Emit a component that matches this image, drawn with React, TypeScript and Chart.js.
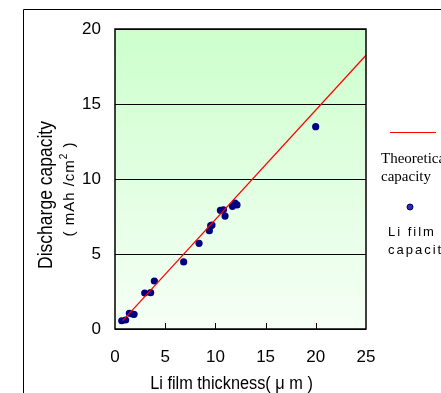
import React, { useEffect, useRef } from "react";
import { Chart, registerables } from "chart.js";

Chart.register(...registerables);

// Measured Li film capacity points
const thickness = [0.67, 1.06, 1.43, 1.7, 1.9, 2.96, 3.55, 3.92, 6.84, 8.37, 9.4, 9.53, 9.66, 10.5, 10.8, 10.96, 11.7, 11.95, 12.15, 19.99];
const capacity = [0.55, 0.6, 1.05, 1.0, 0.98, 2.4, 2.42, 3.2, 4.47, 5.71, 6.55, 6.89, 6.93, 7.91, 7.95, 7.53, 8.18, 8.4, 8.27, 13.49];
// Theoretical capacity line endpoints
const theoryThickness = [0.77, 25];
const theoryCapacity = [0.56, 18.25];
// Axis ranges / ticks
const xMin = 0, xMax = 25, xStep = 5;
const yMin = 0, yMax = 20, yStep = 5;

const xTitle = "Li film thickness( \u03bc m )";
const yTitle1 = "Discharge capacity";
const yTitle2a = "( mAh /cm";
const yTitle2sup = "2";
const yTitle2b = " )";
const legendTheory = ["Theoretical", "capacity"];
const legendPoints = ["Li film", "capacity"];

const SANS = "'Liberation Sans', Arial, sans-serif";
const SERIF = "'Liberation Serif', 'Times New Roman', serif";

const decor = {
  id: "decor",
  beforeDraw(chart: any) {
    const { ctx, chartArea: a, width, height } = chart;
    ctx.save();
    ctx.fillStyle = "#ffffff";
    ctx.fillRect(0, 0, width, height);
    // outer frame
    ctx.strokeStyle = "#000";
    ctx.lineWidth = 1;
    ctx.beginPath();
    ctx.moveTo(23.5, height);
    ctx.lineTo(23.5, 9.5);
    ctx.lineTo(width, 9.5);
    ctx.stroke();
    // plot background gradient
    const g = ctx.createLinearGradient(0, a.top, 0, a.bottom);
    g.addColorStop(0, "#ccffcc");
    g.addColorStop(1, "#f6fff6");
    ctx.fillStyle = g;
    ctx.fillRect(a.left, a.top, a.right - a.left, a.bottom - a.top);
    ctx.restore();
  },
  afterDraw(chart: any) {
    const { ctx, chartArea: a } = chart;
    const xs = chart.scales.x;
    ctx.save();
    // plot border
    ctx.strokeStyle = "#000";
    ctx.lineWidth = 1.5;
    ctx.strokeRect(a.left, a.top, a.right - a.left, a.bottom - a.top);
    // inner x tick marks
    ctx.lineWidth = 1;
    for (let v = xMin + xStep; v < xMax; v += xStep) {
      const px = Math.round(xs.getPixelForValue(v)) + 0.5;
      ctx.beginPath();
      ctx.moveTo(px, a.bottom);
      ctx.lineTo(px, a.bottom - 6);
      ctx.stroke();
    }
    // x title
    ctx.fillStyle = "#000";
    ctx.font = `17px ${SANS}`;
    ctx.textAlign = "center";
    ctx.textBaseline = "alphabetic";
    ctx.save();
    ctx.translate((a.left + a.right) / 2 - 9, 389);
    ctx.scale(0.96, 1.1);
    ctx.fillText(xTitle, 0, 0);
    ctx.restore();
    // y title line 1
    ctx.save();
    ctx.translate(52, 195);
    ctx.rotate(-Math.PI / 2);
    ctx.scale(1, 1.15);
    ctx.font = `17.5px ${SANS}`;
    ctx.textAlign = "center";
    ctx.fillText(yTitle1, 0, 0);
    ctx.restore();
    // y title line 2
    ctx.save();
    ctx.translate(74, 189);
    ctx.rotate(-Math.PI / 2);
    ctx.font = `15px ${SANS}`;
    (ctx as any).letterSpacing = "1px";
    ctx.textAlign = "left";
    const w1 = ctx.measureText(yTitle2a).width;
    ctx.font = `10px ${SANS}`;
    const ws = ctx.measureText(yTitle2sup).width;
    ctx.font = `15px ${SANS}`;
    const w2 = ctx.measureText(yTitle2b).width;
    const x0 = -(w1 + ws + w2) / 2;
    ctx.fillText(yTitle2a, x0, 0);
    ctx.font = `10px ${SANS}`;
    ctx.fillText(yTitle2sup, x0 + w1, -7);
    ctx.font = `15px ${SANS}`;
    ctx.fillText(yTitle2b, x0 + w1 + ws, 0);
    ctx.restore();
    // legend
    ctx.strokeStyle = "#ff0000";
    ctx.lineWidth = 1;
    ctx.beginPath();
    ctx.moveTo(390, 132.5);
    ctx.lineTo(436, 132.5);
    ctx.stroke();
    ctx.fillStyle = "#000";
    ctx.textAlign = "left";
    ctx.font = `15px ${SERIF}`;
    ctx.fillText(legendTheory[0], 381, 163);
    ctx.fillText(legendTheory[1], 381, 181);
    ctx.beginPath();
    ctx.arc(410, 207, 3, 0, Math.PI * 2);
    ctx.fillStyle = "#2b2bc0";
    ctx.fill();
    ctx.strokeStyle = "#000050";
    ctx.stroke();
    ctx.fillStyle = "#000";
    ctx.font = `13px ${SANS}`;
    (ctx as any).letterSpacing = "2px";
    ctx.fillText(legendPoints[0], 388, 236);
    ctx.fillText(legendPoints[1], 388, 254);
    ctx.restore();
  },
};

export default function App() {
  const ref = useRef<HTMLCanvasElement | null>(null);
  useEffect(() => {
    if (!ref.current) return;
    const chart = new Chart(ref.current, {
      type: "scatter",
      data: {
        datasets: [
          {
            type: "line",
            label: "Theoretical capacity",
            data: theoryThickness.map((x, i) => ({ x, y: theoryCapacity[i] })),
            borderColor: "#ff0000",
            borderWidth: 1.2,
            pointRadius: 0,
            fill: false,
            order: 0,
          } as any,
          {
            type: "scatter",
            label: "Li film capacity",
            data: thickness.map((x, i) => ({ x, y: capacity[i] })),
            backgroundColor: "#000080",
            borderColor: "#000080",
            borderWidth: 0,
            pointRadius: 3.6,
            order: 1,
          },
        ],
      },
      options: {
        responsive: false,
        animation: false,
        layout: { padding: { left: 0, right: 75, top: 29, bottom: 0 } },
        plugins: { legend: { display: false }, tooltip: { enabled: false }, title: { display: false } },
        scales: {
          x: {
            type: "linear",
            min: xMin,
            max: xMax,
            ticks: { stepSize: xStep, color: "#000", font: { size: 17, family: SANS }, padding: 18, maxRotation: 0 },
            grid: { display: false, drawTicks: false },
            border: { display: false },
            afterFit: (s: any) => { s.height = 64; },
          },
          y: {
            type: "linear",
            min: yMin,
            max: yMax,
            ticks: { stepSize: yStep, color: "#000", font: { size: 17, family: SANS }, padding: 14 },
            grid: { color: "#000", lineWidth: 1, drawTicks: false },
            border: { display: false },
            afterFit: (s: any) => { s.width = 115; },
          },
        },
      },
      plugins: [decor],
    });
    return () => chart.destroy();
  }, []);
  return (
    <div style={{ position: "absolute", left: 0, top: 0, width: 441, height: 393 }}>
      <canvas ref={ref} width={441} height={393} style={{ display: "block" }} />
    </div>
  );
}
